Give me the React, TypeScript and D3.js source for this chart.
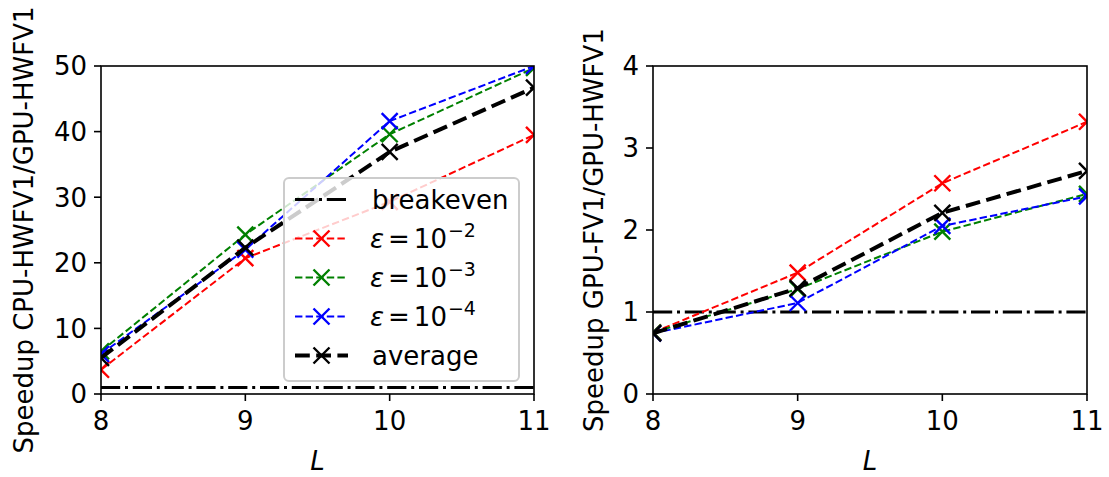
import React from "react";
import * as d3 from "d3";

// x values (level L)
const levels = [8, 9, 10, 11];

// left panel: CPU-HWFV1 / GPU-HWFV1
const leftEps2 = [3.7, 20.7, 29.3, 39.5];
const leftEps3 = [6.5, 24.3, 39.6, 49.7];
const leftEps4 = [6.1, 22.0, 41.6, 50.0];
const leftAvg = [5.5, 22.3, 36.9, 46.7];

// right panel: GPU-FV1 / GPU-HWFV1
const rightEps2 = [0.75, 1.48, 2.57, 3.32];
const rightEps3 = [0.75, 1.28, 1.98, 2.44];
const rightEps4 = [0.74, 1.11, 2.05, 2.41];
const rightAvg = [0.74, 1.29, 2.21, 2.72];

const leftTicks = [0, 10, 20, 30, 40, 50];
const rightTicks = [0, 1, 2, 3, 4];
const breakeven = 1;

const FS = 26;
const FONT = "DejaVu Sans";

const seriesStyle = [
  { color: "red", width: 2, dash: "7.4,3.2", sup: "−2" },
  { color: "green", width: 2, dash: "7.4,3.2", sup: "−3" },
  { color: "blue", width: 2, dash: "7.4,3.2", sup: "−4" },
];

function XMark({ x, y, color }: { x: number; y: number; color: string }) {
  const s = 8;
  return (
    <path
      d={`M${x - s},${y - s}L${x + s},${y + s}M${x - s},${y + s}L${x + s},${y - s}`}
      stroke={color}
      strokeWidth={2.4}
      fill="none"
    />
  );
}

function Panel({
  id, left, right, top, bottom, yMax, yTicks, series, avg, ylabel, labelX,
}: {
  id: string; left: number; right: number; top: number; bottom: number; yMax: number;
  yTicks: number[]; series: number[][]; avg: number[]; ylabel: string; labelX: number;
}) {
  const x = d3.scaleLinear().domain([8, 11]).range([left, right]);
  const y = d3.scaleLinear().domain([0, yMax]).range([bottom, top]);
  const line = d3.line<number>().x((_, i) => x(levels[i])).y((d) => y(d));

  return (
    <g>
      <defs>
        <clipPath id={id}>
          <rect x={left} y={top} width={right - left} height={bottom - top} />
        </clipPath>
      </defs>
      <g clipPath={`url(#${id})`}>
        <line x1={left} x2={right} y1={y(breakeven)} y2={y(breakeven)}
          stroke="black" strokeWidth={3} strokeDasharray="19.2,4.8,3,4.8" />
        {series.map((s, k) => (
          <g key={k}>
            <path d={line(s) || ""} fill="none" stroke={seriesStyle[k].color}
              strokeWidth={seriesStyle[k].width} strokeDasharray={seriesStyle[k].dash} />
            {s.map((v, i) => <XMark key={i} x={x(levels[i])} y={y(v)} color={seriesStyle[k].color} />)}
          </g>
        ))}
        <path d={line(avg) || ""} fill="none" stroke="black" strokeWidth={4} strokeDasharray="14.8,6.4" />
        {avg.map((v, i) => <XMark key={i} x={x(levels[i])} y={y(v)} color="black" />)}
      </g>
      <rect x={left} y={top} width={right - left} height={bottom - top} fill="none" stroke="black" strokeWidth={1.6} />
      {yTicks.map((t) => (
        <g key={t}>
          <line x1={left - 7} x2={left} y1={y(t)} y2={y(t)} stroke="black" strokeWidth={1.6} />
          <text x={left - 14} y={y(t) + FS * 0.36} textAnchor="end" fontSize={FS} fontFamily={FONT}>{t}</text>
        </g>
      ))}
      {levels.map((t) => (
        <g key={t}>
          <line x1={x(t)} x2={x(t)} y1={bottom} y2={bottom + 7} stroke="black" strokeWidth={1.6} />
          <text x={x(t)} y={430} textAnchor="middle" fontSize={FS} fontFamily={FONT}>{t}</text>
        </g>
      ))}
      <text x={(left + right) / 2} y={470} textAnchor="middle" fontSize={FS} fontFamily={FONT} fontStyle="italic">L</text>
      <text transform={`translate(${labelX},${(top + bottom) / 2}) rotate(-90)`} textAnchor="middle"
        fontSize={FS} fontFamily={FONT}>{ylabel}</text>
    </g>
  );
}

function Legend() {
  const lx = 284, ly = 178, w = 235, h = 203;
  const rows = [199.5, 238.5, 277.5, 316.5, 355.5];
  const h0 = 295, h1 = 348, mid = (h0 + h1) / 2, tx = 372;
  return (
    <g>
      <rect x={lx} y={ly} width={w} height={h} rx={5} fill="white" fillOpacity={0.8} stroke="#cccccc" strokeWidth={2} />
      <line x1={h0} x2={h1} y1={rows[0]} y2={rows[0]} stroke="black" strokeWidth={3} strokeDasharray="19.2,4.8,3,4.8" />
      <text x={tx} y={rows[0] + 9} fontSize={FS} fontFamily={FONT}>breakeven</text>
      {seriesStyle.map((s, k) => (
        <g key={k}>
          <line x1={h0} x2={h1} y1={rows[k + 1]} y2={rows[k + 1]} stroke={s.color} strokeWidth={2} strokeDasharray={s.dash} />
          <XMark x={mid} y={rows[k + 1]} color={s.color} />
          <text x={tx - 2} y={rows[k + 1] + 9} fontSize={FS} fontFamily={FONT}>
            <tspan fontStyle="italic">ε</tspan>
            <tspan dx={4}>=</tspan>
            <tspan dx={4}>10</tspan>
            <tspan dx={1} dy={-10.5} fontSize={19}>{s.sup}</tspan>
          </text>
        </g>
      ))}
      <line x1={h0} x2={h1} y1={rows[4]} y2={rows[4]} stroke="black" strokeWidth={4} strokeDasharray="14.8,6.4" />
      <XMark x={mid} y={rows[4]} color="black" />
      <text x={tx} y={rows[4] + 9} fontSize={FS} fontFamily={FONT}>average</text>
    </g>
  );
}

export default function App() {
  return (
    <svg width={1109} height={477} style={{ position: "absolute", left: 0, top: 0, background: "white" }}>
      <Panel id="clipL" left={101} right={534} top={66} bottom={394} yMax={50} yTicks={leftTicks}
        series={[leftEps2, leftEps3, leftEps4]} avg={leftAvg}
        ylabel="Speedup CPU-HWFV1/GPU-HWFV1" labelX={33} />
      <Panel id="clipR" left={653} right={1087} top={66} bottom={394} yMax={4} yTicks={rightTicks}
        series={[rightEps2, rightEps3, rightEps4]} avg={rightAvg}
        ylabel="Speedup GPU-FV1/GPU-HWFV1" labelX={603} />
      <Legend />
    </svg>
  );
}
